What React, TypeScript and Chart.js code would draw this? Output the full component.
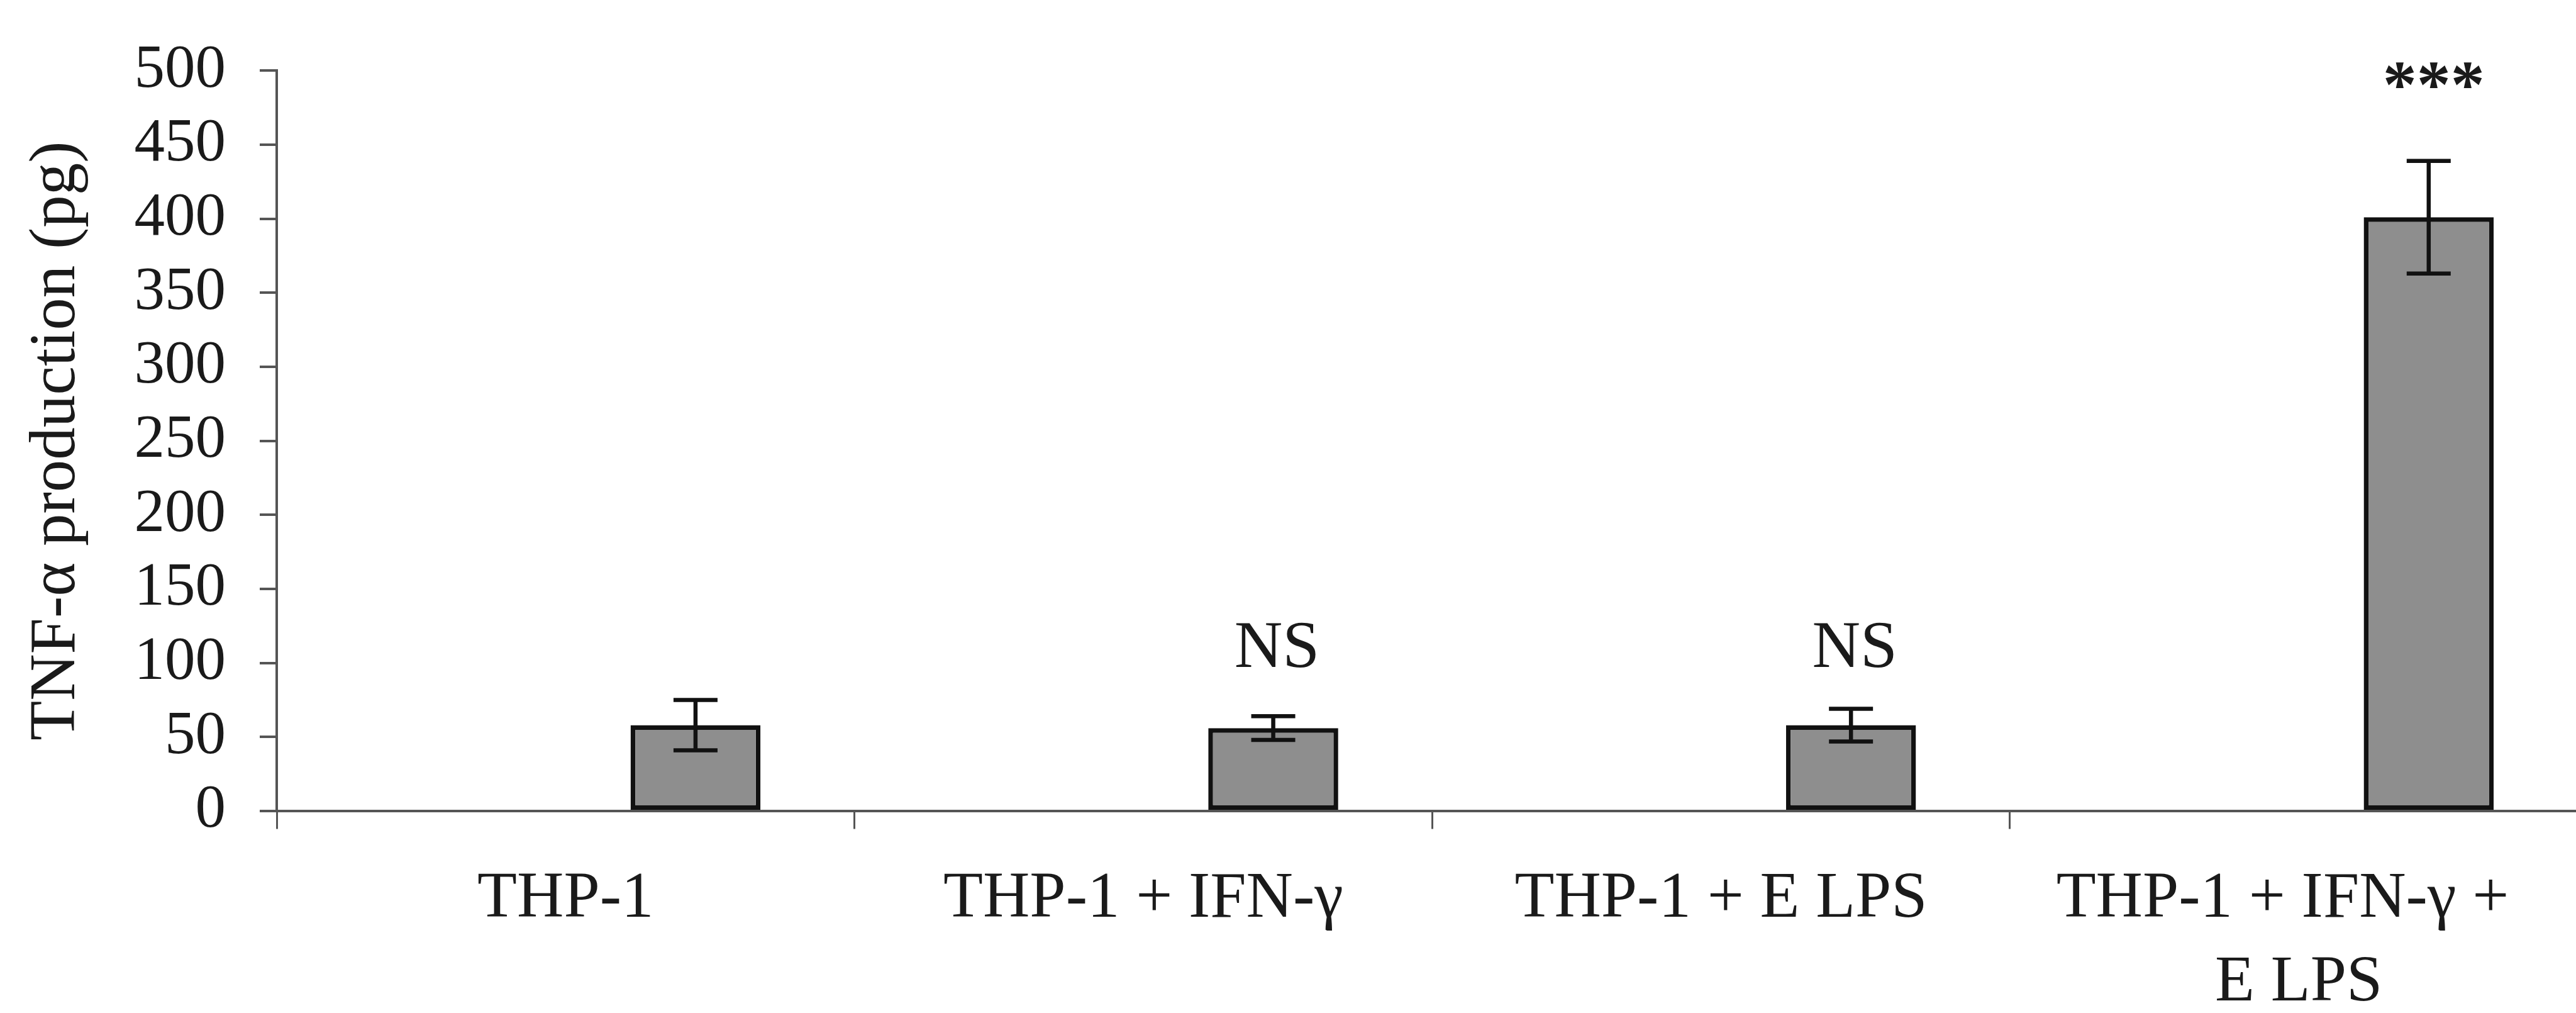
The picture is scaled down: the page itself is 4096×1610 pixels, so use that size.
import React, { useEffect, useRef } from "react";
import { Chart, registerables } from "chart.js";

Chart.register(...registerables);

// ---------- data ----------
const categories: (string | string[])[] = [
  "THP-1",
  "THP-1 + IFN-γ",
  "THP-1 + E LPS",
  ["THP-1 + IFN-γ +  ", "E LPS"],
];
const tnfValues: number[] = [58, 56, 58, 401];
const tnfErrors: number[] = [17, 8, 11, 38];
const significance: string[] = ["", "NS", "NS", "***"];
const yAxisTitle = "TNF-α production (pg)";
const yMin = 0;
const yMax = 500;
const yStep = 50;

// ---------- layout / style ----------
const WIN_W = 4096;
const WIN_H = 1610;
const CANVAS_W = 4136;
const PLOT_LEFT = 440;
const PLOT_RIGHT = 4114.5;
const PLOT_TOP = 92.3;
const PLOT_BOTTOM = 1289;
const FONT = "'Liberation Serif', 'Times New Roman', serif";
const TEXT_COLOR = "#1a1a1a";
const AXIS_COLOR = "#555555";
const BAR_FILL = "#8e8e8e";
const BAR_BORDER = "#111111";
const labelLevel: Record<string, number> = { NS: 109, "***": 487 };

const errorBarPlugin = {
  id: "errorBars",
  afterDatasetsDraw(chart: any) {
    const meta = chart.getDatasetMeta(2);
    const yScale = chart.scales.y;
    const ctx = chart.ctx;
    ctx.save();
    ctx.strokeStyle = "#111111";
    ctx.lineWidth = 6.5;
    ctx.lineCap = "butt";
    const capHalf = 35;
    meta.data.forEach((el: any, i: number) => {
      const v = tnfValues[i];
      const e = tnfErrors[i];
      const x = el.x;
      const yTop = yScale.getPixelForValue(v + e);
      const yBot = yScale.getPixelForValue(v - e);
      ctx.beginPath();
      ctx.moveTo(x, yTop);
      ctx.lineTo(x, yBot);
      ctx.moveTo(x - capHalf, yTop);
      ctx.lineTo(x + capHalf, yTop);
      ctx.moveTo(x - capHalf, yBot);
      ctx.lineTo(x + capHalf, yBot);
      ctx.stroke();
    });
    // significance labels
    ctx.fillStyle = TEXT_COLOR;
    ctx.textAlign = "center";
    ctx.textBaseline = "middle";
    meta.data.forEach((el: any, i: number) => {
      const s = significance[i];
      if (!s) return;
      const lvl = labelLevel[s] ?? tnfValues[i] + tnfErrors[i] + 40;
      const y = yScale.getPixelForValue(lvl);
      ctx.font = s === "***" ? `bold 108px ${FONT}` : `106px ${FONT}`;
      ctx.fillText(s, el.x + (s === "***" ? 8 : 6), y);
    });
    ctx.restore();
  },
};

export default function App() {
  const canvasRef = useRef<HTMLCanvasElement | null>(null);

  useEffect(() => {
    const canvas = canvasRef.current;
    if (!canvas) return;
    const empty = categories.map(() => null);
    const chart = new Chart(canvas, {
      type: "bar",
      data: {
        labels: categories as any,
        datasets: [
          { label: "a", data: empty as any, backgroundColor: "rgba(0,0,0,0)" },
          { label: "b", data: empty as any, backgroundColor: "rgba(0,0,0,0)" },
          {
            label: "TNF-α",
            data: tnfValues,
            backgroundColor: BAR_FILL,
            borderColor: BAR_BORDER,
            borderWidth: 7.5,
            borderSkipped: false,
          },
        ],
      },
      options: {
        responsive: false,
        maintainAspectRatio: false,
        devicePixelRatio: 1,
        animation: false,
        datasets: {
          bar: {
            categoryPercentage: 0.6747,
            barPercentage: 1,
          },
        },
        layout: {
          padding: {
            left: 0,
            top: PLOT_TOP,
            right: CANVAS_W - PLOT_RIGHT,
            bottom: 0,
          },
        },
        plugins: {
          legend: { display: false },
          tooltip: { enabled: false },
          title: { display: false },
        },
        scales: {
          x: {
            type: "category",
            offset: true,
            grid: {
              offset: true,
              drawOnChartArea: false,
              drawTicks: true,
              tickLength: 28.5,
              color: AXIS_COLOR,
              lineWidth: 3,
            },
            border: { display: true, color: AXIS_COLOR, width: 4 },
            ticks: {
              color: TEXT_COLOR,
              font: { family: FONT, size: 103, lineHeight: 1.29 },
              padding: 46,
              maxRotation: 0,
              minRotation: 0,
              autoSkip: false,
            },
            afterFit: (scale: any) => {
              scale.height = WIN_H - PLOT_BOTTOM;
            },
          },
          y: {
            type: "linear",
            min: yMin,
            max: yMax,
            ticks: {
              stepSize: yStep,
              autoSkip: false,
              color: TEXT_COLOR,
              font: { family: FONT, size: 97 },
              padding: 54,
            },
            grid: {
              drawOnChartArea: false,
              drawTicks: true,
              tickLength: 27,
              color: AXIS_COLOR,
              lineWidth: 4,
            },
            border: { display: true, color: AXIS_COLOR, width: 4 },
            title: {
              display: true,
              text: yAxisTitle,
              color: TEXT_COLOR,
              font: { family: FONT, size: 103 },
              padding: { top: 29, bottom: 0 },
            },
            afterFit: (scale: any) => {
              scale.width = PLOT_LEFT;
            },
          },
        },
      } as any,
      plugins: [errorBarPlugin],
    });
    return () => chart.destroy();
  }, []);

  return (
    <div
      style={{
        position: "fixed",
        left: 0,
        top: 0,
        width: WIN_W,
        height: WIN_H,
        overflow: "hidden",
        background: "#ffffff",
      }}
    >
      <canvas
        ref={canvasRef}
        width={CANVAS_W}
        height={WIN_H}
        style={{ display: "block", width: CANVAS_W, height: WIN_H }}
      />
    </div>
  );
}
